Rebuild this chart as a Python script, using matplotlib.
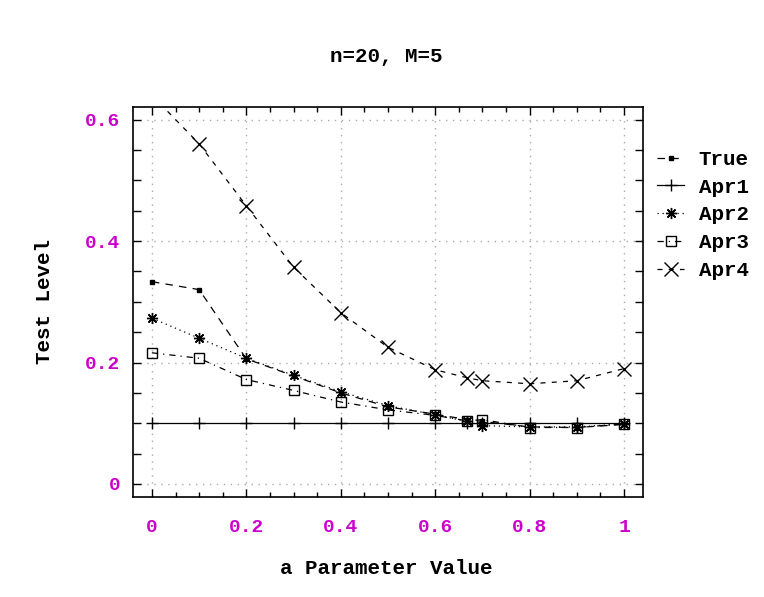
import matplotlib
matplotlib.use("Agg")
import matplotlib.pyplot as plt
from matplotlib.ticker import MultipleLocator

# data
a_values = [0, 0.1, 0.2, 0.3, 0.4, 0.5, 0.6, 0.667, 0.7, 0.8, 0.9, 1.0]
true_level = [0.333, 0.320, 0.206, 0.178, 0.150, 0.127, 0.115, 0.106, 0.103, 0.094, 0.093, 0.098]
apr1 = [0.1] * 12
apr2 = [0.273, 0.240, 0.207, 0.179, 0.152, 0.129, 0.114, 0.103, 0.096, 0.094, 0.094, 0.099]
apr3 = [0.216, 0.207, 0.172, 0.154, 0.135, 0.122, 0.113, 0.104, 0.106, 0.093, 0.093, 0.099]
apr4 = [0.640, 0.560, 0.458, 0.357, 0.282, 0.225, 0.188, 0.175, 0.170, 0.165, 0.170, 0.190]

magenta = "#cc00cc"
font = "Liberation Mono"

fig = plt.figure(figsize=(7.64, 5.97), dpi=100)
ax = fig.add_axes([133 / 764, 100 / 597, 510 / 764, 390 / 597])

lw = 0.9
ax.plot(a_values, true_level, color="black", lw=lw, ls=(0, (6, 5)),
        marker="s", ms=2.5, label="True")
ax.plot(a_values, apr1, color="black", lw=lw, ls="-",
        marker="+", ms=8, mew=1, label="Apr1")
ax.plot(a_values, apr2, color="black", lw=lw, ls=(0, (1, 3)),
        marker=(8, 2, 0), ms=8, mew=1, label="Apr2")
ax.plot(a_values, apr3, color="black", lw=lw, ls=(0, (5, 4, 1, 4)),
        marker="s", ms=7, mfc="none", mew=1, label="Apr3")
ax.plot(a_values, apr4, color="black", lw=lw, ls=(0, (4, 5)),
        marker="x", ms=10, mew=1, label="Apr4")

ax.set_xlim(-0.04, 1.04)
ax.set_ylim(-0.0214, 0.6206)

ax.xaxis.set_minor_locator(MultipleLocator(0.05))
ax.yaxis.set_minor_locator(MultipleLocator(0.05))
ax.set_xticks([0, 0.2, 0.4, 0.6, 0.8, 1.0])
ax.set_xticklabels(["0", "0.2", "0.4", "0.6", "0.8", "1"])
ax.set_yticks([0, 0.2, 0.4, 0.6])
ax.set_yticklabels(["0", "0.2", "0.4", "0.6"])

ax.tick_params(which="both", direction="in", top=True, right=True, width=1)
ax.tick_params(axis="x", which="major", length=6, pad=16)
ax.tick_params(axis="x", which="minor", length=3.5)
ax.tick_params(axis="y", which="both", length=6, pad=9)
for lab in ax.get_xticklabels() + ax.get_yticklabels():
    lab.set_fontfamily(font)
    lab.set_fontweight("bold")
    lab.set_fontsize(14)
    lab.set_color(magenta)

ax.grid(True, which="major", color="#aaaaaa", ls=(0, (1, 4)), lw=1)
for s in ax.spines.values():
    s.set_linewidth(1.2)

fig.text(386 / 764, 1 - 57 / 597, "n=20, M=5", ha="center", va="center",
         fontfamily=font, fontweight="bold", fontsize=15)
fig.text(386 / 764, 1 - 568 / 597, "a Parameter Value", ha="center", va="center",
         fontfamily=font, fontweight="bold", fontsize=15)
fig.text(45 / 764, 1 - 302 / 597, "Test Level", ha="center", va="center",
         rotation=90, fontfamily=font, fontweight="bold", fontsize=15)

fig.legend(loc="upper left", bbox_to_anchor=(657 / 764, 1 - 150 / 597),
           frameon=False, numpoints=1, handlelength=1.3, handletextpad=0.7,
           labelspacing=0.42, borderaxespad=0, borderpad=0,
           prop={"family": font, "weight": "bold", "size": 15})

fig.savefig("out.png", dpi=100)
